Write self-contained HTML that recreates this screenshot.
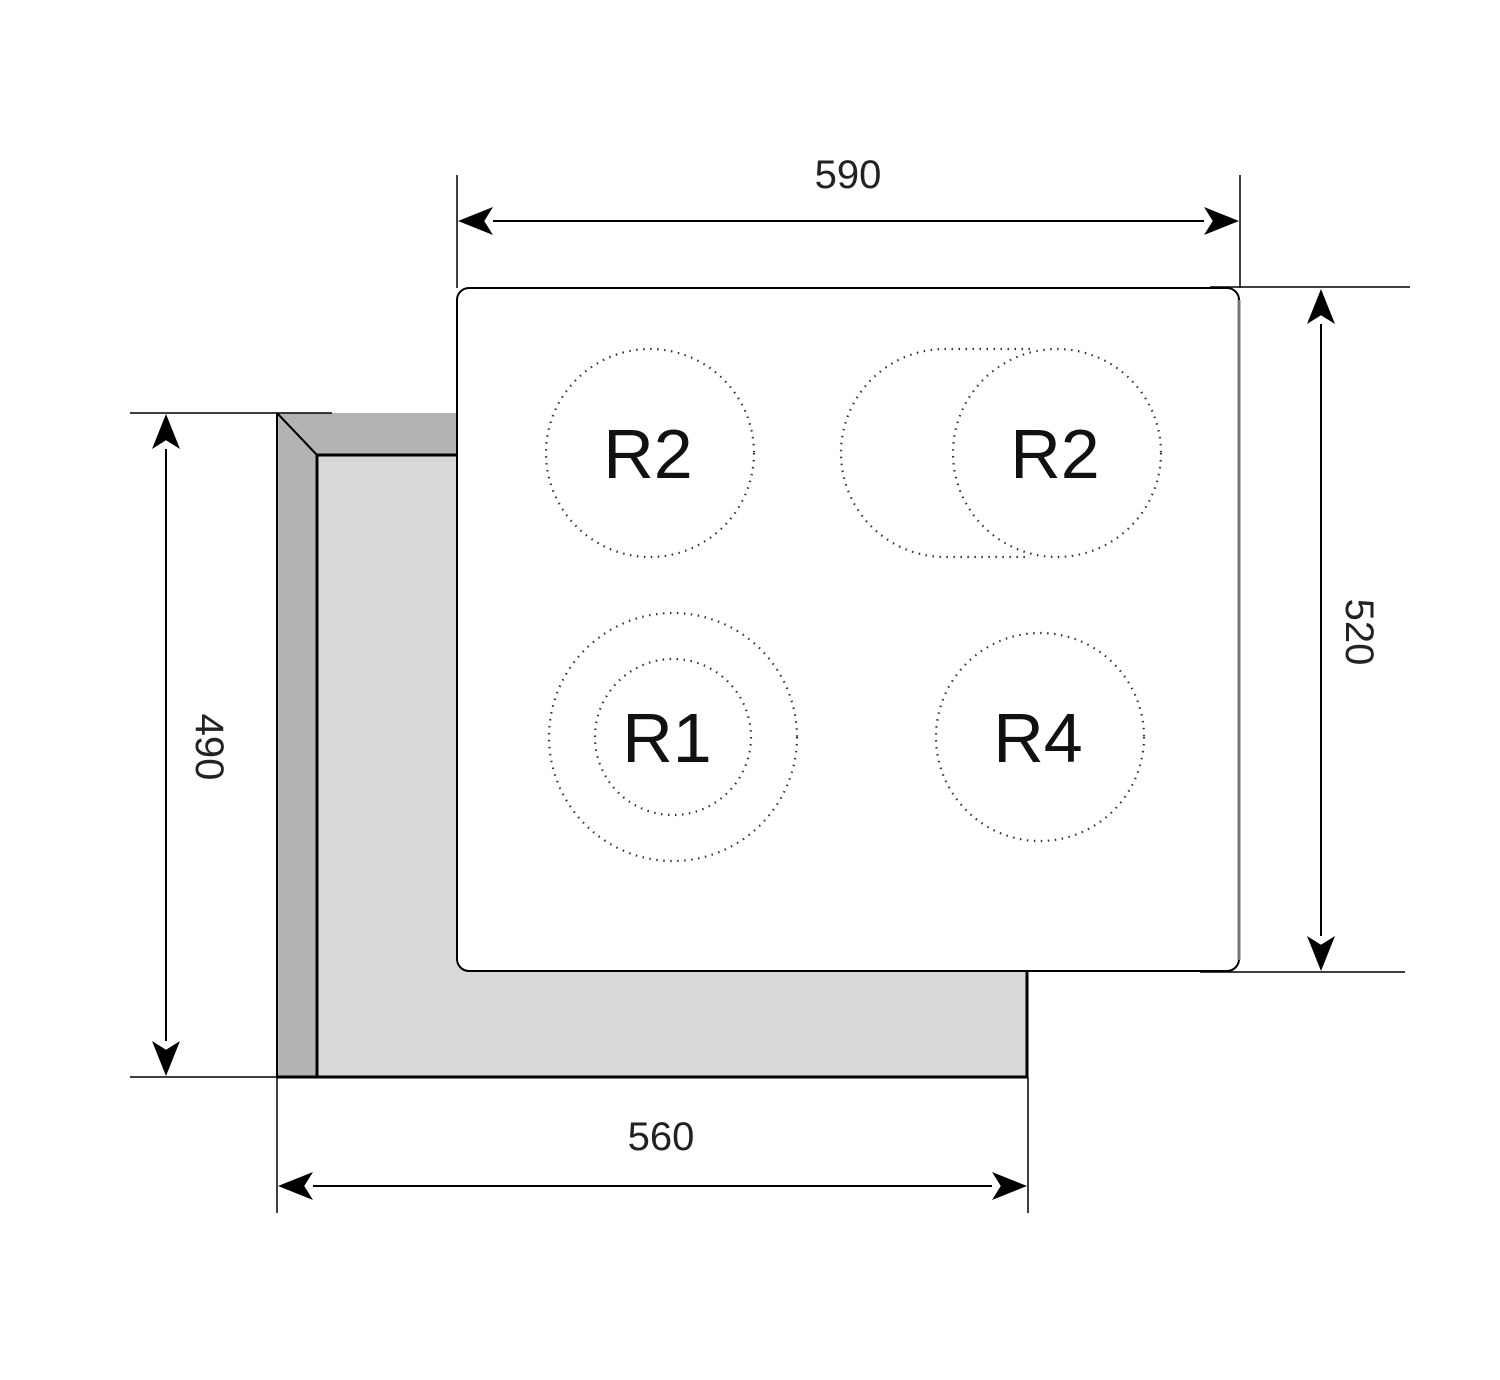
<!DOCTYPE html>
<html><head><style>html,body{margin:0;padding:0;background:#fff}</style></head><body>
<svg width="1500" height="1375" viewBox="0 0 1500 1375" xmlns="http://www.w3.org/2000/svg" font-family="Liberation Sans, sans-serif">
<defs>
<marker id="a" viewBox="0 0 20 16" refX="0" refY="8" markerWidth="36" markerHeight="28" markerUnits="userSpaceOnUse" orient="auto-start-reverse"><path d="M20,8 L0,0 L5,8 L0,16 Z" fill="#000"/></marker>
</defs>
<path d="M277,413 H457 V1077 H277 Z" fill="#b3b3b3"/>
<rect x="317" y="455" width="710" height="622" fill="#d9d9d9"/>
<path d="M317,455 H457" stroke="#000" stroke-width="3"/>
<path d="M317,455 V1077" stroke="#000" stroke-width="3"/>
<path d="M277,1077 H1027 V971" stroke="#000" stroke-width="3" fill="none"/>
<path d="M277,413 L317,455" stroke="#000" stroke-width="2"/>
<path d="M277,413 V1077" stroke="#000" stroke-width="2"/>
<path d="M130,413 H332" stroke="#000" stroke-width="1.5"/>
<rect x="457" y="288" width="782" height="683" rx="12" fill="#fff" stroke="#000" stroke-width="2"/>
<path d="M1239,300 V960" stroke="#777" stroke-width="3"/>
<g fill="none" stroke="#333" stroke-width="2.2" stroke-dasharray="1.5 5.5">
<circle cx="650" cy="453" r="104"/>
<circle cx="1057" cy="453" r="104"/>
<path d="M1030,349 H945 A104,104 0 0 0 945,557 H1030"/>
<circle cx="673" cy="737" r="124"/>
<circle cx="673" cy="737" r="78"/>
<circle cx="1040" cy="737" r="104"/>
</g>
<g font-size="70" fill="#111" text-anchor="middle">
<text x="648" y="478">R2</text>
<text x="1055" y="478">R2</text>
<text x="667" y="762">R1</text>
<text x="1038" y="762">R4</text>
</g>
<g stroke="#000" stroke-width="1.5" fill="none">
<path d="M457,175 V288 M1240,175 V288"/>
<path d="M1210,287 H1410 M1200,972 H1405"/>
<path d="M130,1077 H277"/>
<path d="M277,1077 V1213 M1028,1077 V1213"/>
</g>
<g stroke="#000" stroke-width="2">
<line x1="493" y1="221" x2="1204" y2="221" marker-start="url(#a)" marker-end="url(#a)"/>
<line x1="1321" y1="324" x2="1321" y2="936" marker-start="url(#a)" marker-end="url(#a)"/>
<line x1="166" y1="449" x2="166" y2="1041" marker-start="url(#a)" marker-end="url(#a)"/>
<line x1="313" y1="1186" x2="992" y2="1186" marker-start="url(#a)" marker-end="url(#a)"/>
</g>
<g font-size="40" fill="#222" text-anchor="middle">
<text x="848" y="188">590</text>
<text x="661" y="1150">560</text>
<text transform="translate(1346,632) rotate(90)">520</text>
<text transform="translate(196,747) rotate(90)">490</text>
</g>
</svg>
</body></html>
